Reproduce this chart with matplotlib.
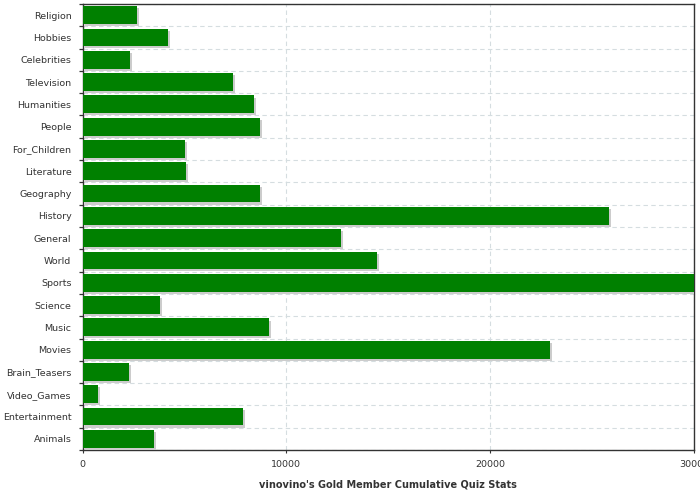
import numpy as np
import matplotlib
matplotlib.use("Agg")
import matplotlib.pyplot as plt
import matplotlib.patheffects as pe

# top to bottom, as in the picture
categories = ["Religion", "Hobbies", "Celebrities", "Television", "Humanities",
              "People", "For_Children", "Literature", "Geography", "History",
              "General", "World", "Sports", "Science", "Music", "Movies",
              "Brain_Teasers", "Video_Games", "Entertainment", "Animals"]
values = [2670, 4190, 2330, 7380, 8400, 8700, 5020, 5070, 8700, 25810,
          12670, 14440, 30000, 3800, 9140, 22920, 2280, 760, 7870, 3500]
x_ticks = [0, 10000, 20000, 30000]
x_label = "vinovino's Gold Member Cumulative Quiz Stats"

fig = plt.figure(figsize=(7, 5), dpi=100)
ax = fig.add_axes([82.5 / 700, 50 / 500, (694 - 82.5) / 700, 446 / 500])

n = len(categories)
ypos = np.arange(n)
bars = ax.barh(ypos, values, height=0.8, color="#008000", zorder=3)
for b in bars:
    b.set_path_effects([pe.SimplePatchShadow(offset=(1.5, -1.5),
                                             shadow_rgbFace="#cccccc", alpha=1.0),
                        pe.Normal()])

ax.set_ylim(n - 0.5, -0.5)
ax.set_xlim(0, 30000)

ax.set_yticks(ypos)
ax.set_yticklabels(categories)
ax.set_yticks(np.arange(n + 1) - 0.5, minor=True)
ax.tick_params(axis="y", which="major", length=0, pad=8, labelsize=6.8,
               labelcolor="#333333")
ax.tick_params(axis="y", which="minor", length=3, width=0.9, color="#333333")

ax.set_xticks(x_ticks)
ax.set_xticklabels([str(t) for t in x_ticks])
ax.tick_params(axis="x", length=2, width=0.8, color="#333333", labelsize=6.8,
               labelcolor="#333333", pad=5)

ax.grid(axis="y", which="minor", linestyle=(0, (4, 3)), color="#d5dde0",
        linewidth=0.8, zorder=0)
ax.grid(axis="x", which="major", linestyle=(0, (4, 3)), color="#d5dde0",
        linewidth=0.8, zorder=0)

for s in ax.spines.values():
    s.set_color("#333333")
    s.set_linewidth(1.0)

ax.set_xlabel(x_label, fontsize=7, fontweight="bold", color="#333333",
              labelpad=7.5)

fig.savefig("out.png", dpi=100)
